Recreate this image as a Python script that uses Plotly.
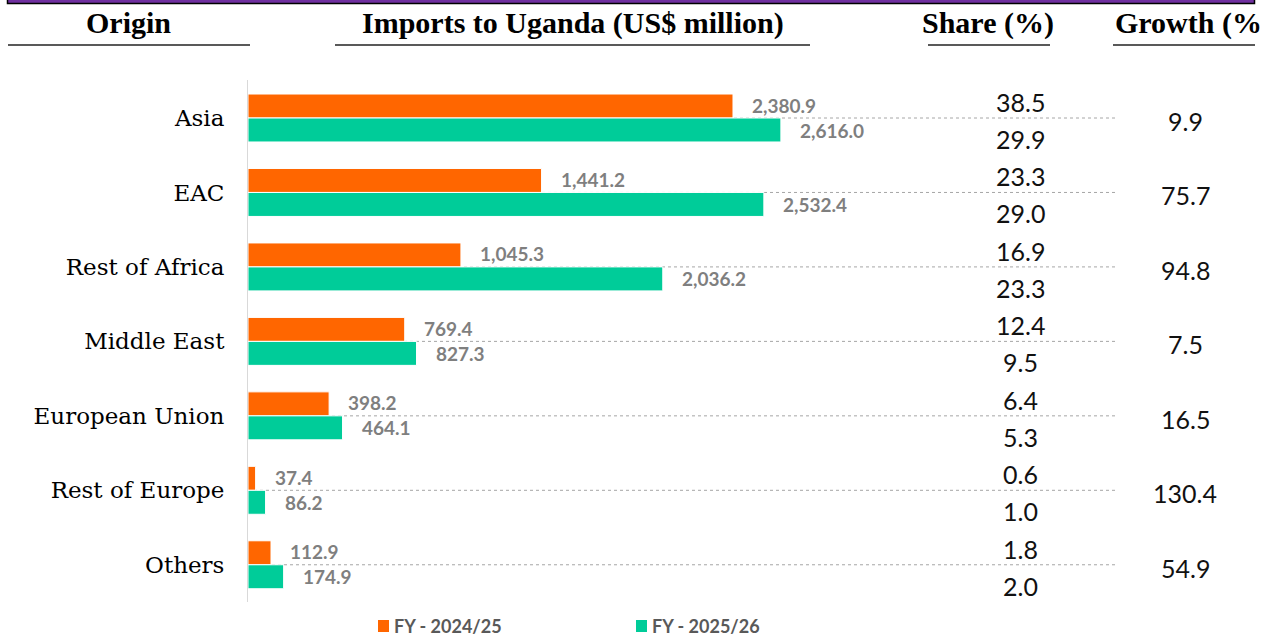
import plotly.graph_objects as go

# values
origins = ["Asia", "EAC", "Rest of Africa", "Middle East",
           "European Union", "Rest of Europe", "Others"]
imports_2425 = [2380.9, 1441.2, 1045.3, 769.4, 398.2, 37.4, 112.9]
imports_2526 = [2616.0, 2532.4, 2036.2, 827.3, 464.1, 86.2, 174.9]
share_2425 = ["38.5", "23.3", "16.9", "12.4", "6.4", "0.6", "1.8"]
share_2526 = ["29.9", "29.0", "23.3", "9.5", "5.3", "1.0", "2.0"]
growth = ["9.9", "75.7", "94.8", "7.5", "16.5", "130.4", "54.9"]

series_names = ["FY - 2024/25", "FY - 2025/26"]
headers = ["Origin", "Imports to Uganda (US$ million)", "Share (%)", "Growth (%"]

ORANGE = "#FF6600"
GREEN = "#00CC99"
GREY_TXT = "#7F7F7F"

W, H = 1272, 639
L, R, T, B = 248, 1118, 80, 602  # plot area in pixels


def px_x(p):
    return (p - L) / (R - L)


def px_y(p):
    return (B - p) / (B - T)


def fmt(v):
    return f"{v:,.1f}"


fig = go.Figure()
for name, vals, col in [(series_names[0], imports_2425, ORANGE),
                        (series_names[1], imports_2526, GREEN)]:
    fig.add_trace(go.Bar(
        y=origins, x=vals, name=name, orientation="h",
        marker=dict(color=col, line=dict(color="white", width=1)),
        hoverinfo="x+y",
    ))

annotations = []
# value labels next to the bars
for o, v1, v2 in zip(origins, imports_2425, imports_2526):
    for v, ys in [(v1, 13), (v2, -12)]:
        annotations.append(dict(
            x=v, y=o, xref="x", yref="y", text=fmt(v), showarrow=False,
            xanchor="left", yanchor="middle", xshift=17, yshift=ys,
            font=dict(family="Lato", size=19, color=GREY_TXT, weight="bold"),
        ))

# share and growth columns
for o, s1, s2, g in zip(origins, share_2425, share_2526, growth):
    for s, ys in [(s1, 16), (s2, -21)]:
        annotations.append(dict(
            x=px_x(1020), y=o, xref="paper", yref="y", text=s, showarrow=False,
            xanchor="center", yanchor="middle", yshift=ys,
            font=dict(family="Lato", size=25, color="#111111"),
        ))
    annotations.append(dict(
        x=px_x(1185), y=o, xref="paper", yref="y", text=g, showarrow=False,
        xanchor="center", yanchor="middle", yshift=-3,
        font=dict(family="Lato", size=25, color="#111111"),
    ))

# column headers
header_pos = [128, 573, 988, 1113]
header_anchor = ["center", "center", "center", "left"]
for txt, hx, anc in zip(headers, header_pos, header_anchor):
    annotations.append(dict(
        x=px_x(hx), y=px_y(23), xref="paper", yref="paper", text=txt,
        showarrow=False, xanchor=anc, yanchor="middle",
        font=dict(family="Liberation Serif", size=30, color="black", weight="bold"),
    ))

# legend, drawn by hand so the swatch sits tight against its text
legend_x = [378, 636]
legend_cols = [ORANGE, GREEN]
shapes = []
for nm, lx, col in zip(series_names, legend_x, legend_cols):
    shapes.append(dict(
        type="rect", xref="paper", yref="paper",
        x0=px_x(lx), x1=px_x(lx + 11), y0=px_y(632), y1=px_y(620),
        fillcolor=col, line=dict(width=0),
    ))
    annotations.append(dict(
        x=px_x(lx + 14), y=px_y(626), xref="paper", yref="paper", text=nm,
        showarrow=False, xanchor="left", yanchor="middle",
        font=dict(family="Lato", size=18, color="#595959", weight="bold"),
    ))

# dotted separators through each category
for o in origins:
    shapes.append(dict(
        type="line", xref="paper", yref="y", x0=0, x1=1, y0=o, y1=o,
        line=dict(color="#A6A6A6", width=1, dash="dot"), layer="below",
    ))
# header underlines
for x0, x1 in [(8, 250), (335, 810), (928, 1050), (1113, 1255)]:
    shapes.append(dict(
        type="line", xref="paper", yref="paper",
        x0=px_x(x0), x1=px_x(x1), y0=px_y(45), y1=px_y(45),
        line=dict(color="#222222", width=1.5),
    ))
# clipped purple title band at the very top
shapes.append(dict(
    type="rect", xref="paper", yref="paper",
    x0=px_x(7.5), x1=px_x(1254.5), y0=px_y(-6), y1=px_y(3.5),
    fillcolor="#7030A0", line=dict(color="black", width=1.5),
))

fig.update_layout(
    width=W, height=H,
    margin=dict(l=L, r=W - R, t=T, b=H - B, pad=0),
    plot_bgcolor="white", paper_bgcolor="white",
    barmode="group", bargap=0.356, bargroupgap=0,
    showlegend=False,
    xaxis=dict(visible=False, range=[0, (R - L) / 0.2037], fixedrange=True),
    yaxis=dict(
        autorange="reversed", showgrid=False, zeroline=False, ticks="",
        showline=True, linecolor="#D9D9D9", linewidth=1,
        tickfont=dict(family="DejaVu Serif", size=23, color="black"),
        ticklabelstandoff=18, fixedrange=True,
    ),
    annotations=annotations,
    shapes=shapes,
)

# the page body has a default 8px margin; drop it so the figure fills the window
fig.write_html("out.html", config={"displayModeBar": False},
               post_script="document.body.style.margin='0px';")
